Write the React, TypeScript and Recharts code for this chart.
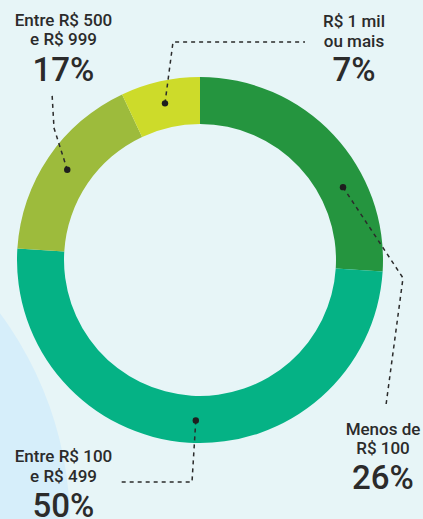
import { PieChart, Pie, Cell } from 'recharts';

const categories = ['Menos de R$ 100', 'Entre R$ 100 e R$ 499', 'Entre R$ 500 e R$ 999', 'R$ 1 mil ou mais'];
const shares = [26, 50, 17, 7];
const labelLines = [
  ['Menos de', 'R$ 100'],
  ['Entre R$ 100', 'e R$ 499'],
  ['Entre R$ 500', 'e R$ 999'],
  ['R$ 1 mil', 'ou mais'],
];

const COLORS = ['#25953f', '#05b285', '#9dbb3c', '#cddb2a'];
const RAD = Math.PI / 180;

// where each callout goes (text center + leader bends), layout only
const LAYOUT = [
  { dotAngle: 27, bends: [[403, 278], [386, 405]], tx: 383, ty: [435, 454, 489] },
  { dotAngle: -91.5, bends: [[192, 482], [120, 482]], tx: 63.5, ty: [462, 482, 517] },
  { dotAngle: null, bends: [[54, 128], [52, 93]], tx: 63.5, ty: [26, 45, 81] },
  { dotAngle: null, bends: [[173, 42], [305, 42]], tx: 354, ty: [27, 47, 81] },
];

const data = categories.map((name, i) => ({ name, value: shares[i] }));

const renderLabel = (props: any) => {
  const { cx, cy, midAngle, innerRadius, outerRadius, index } = props;
  const l = LAYOUT[index];
  const a = l.dotAngle ?? midAngle;
  const r = (innerRadius + outerRadius) / 2 + 1;
  const x = cx + r * Math.cos(-a * RAD);
  const y = cy + r * Math.sin(-a * RAD);
  const pts = [[x, y], ...l.bends].map((p) => p.join(',')).join(' ');
  return (
    <g key={`lbl-${index}`}>
      <polyline points={pts} fill="none" stroke="#2b2b2b" strokeWidth={1.5} strokeDasharray="4 4" />
      <circle cx={x} cy={y} r={3.2} fill="#1e1e1e" />
      <text textAnchor="middle" fill="#2b2b2b" fontFamily="Roboto, sans-serif" fontWeight={500}>
        <tspan x={l.tx} y={l.ty[0]} fontSize={17}>{labelLines[index][0]}</tspan>
        <tspan x={l.tx} y={l.ty[1]} fontSize={17}>{labelLines[index][1]}</tspan>
        <tspan x={l.tx} y={l.ty[2]} fontSize={33}>{shares[index]}%</tspan>
      </text>
    </g>
  );
};

export default function App() {
  return (
    <div style={{ position: 'relative', width: 423, height: 519, overflow: 'hidden', background: '#e7f5f7' }}>
      <style>{'body{margin:0}'}</style>
      <div
        style={{
          position: 'absolute',
          left: -285 - 355,
          top: 525 - 355,
          width: 710,
          height: 710,
          borderRadius: '50%',
          background: '#d6eefa',
        }}
      />
      <div style={{ position: 'absolute', left: 0, top: 0 }}>
        <PieChart width={423} height={519} margin={{ top: 0, right: 0, bottom: 0, left: 0 }}>
          <Pie
            data={data}
            dataKey="value"
            cx={200}
            cy={260}
            innerRadius={136}
            outerRadius={183}
            startAngle={90}
            endAngle={-270}
            stroke="none"
            label={renderLabel}
            labelLine={false}
            isAnimationActive={false}
          >
            {data.map((_, i) => (
              <Cell key={i} fill={COLORS[i]} />
            ))}
          </Pie>
        </PieChart>
      </div>
    </div>
  );
}
